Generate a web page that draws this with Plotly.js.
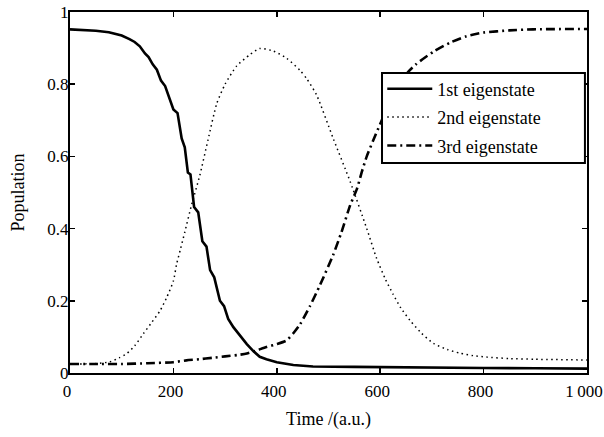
<!DOCTYPE html>
<html>
<head>
<meta charset="utf-8">
<script src="https://cdn.plot.ly/plotly-3.0.1.min.js"></script>
<style>html,body{margin:0;padding:0;background:#fff;}#chart{width:604px;height:437px;}</style>
</head>
<body>
<div id="chart"></div>
<script>
// 1st eigenstate (solid)
const t1 = [0,25,50,75,100,115,125,135,145,152,160,168,176,184,192,200,208,216,222,228,233,240,248,256,264,271,279,290,298,306,316,325,342,355,367,380,400,432,470,550,600,700,800,900,1000];
const p1 = [0.952,0.951,0.948,0.944,0.935,0.925,0.917,0.905,0.885,0.875,0.855,0.84,0.81,0.795,0.76,0.73,0.72,0.65,0.625,0.555,0.55,0.46,0.445,0.365,0.35,0.285,0.265,0.2,0.185,0.15,0.127,0.11,0.08,0.06,0.045,0.038,0.03,0.022,0.018,0.017,0.016,0.015,0.014,0.013,0.012];
// 2nd eigenstate (dotted)
const t2 = [0,50,77,95,110,125,142,158,174,187,200,206,214,222,235,251,267,284,300,322,348,367,393,419,445,458,477,509,542,574,593,610,625,640,658,680,703,730,754,780,806,850,900,1000];
const p2 = [0.025,0.026,0.031,0.042,0.054,0.075,0.109,0.14,0.172,0.209,0.255,0.3,0.345,0.39,0.465,0.547,0.646,0.747,0.8,0.85,0.882,0.899,0.892,0.872,0.838,0.815,0.77,0.65,0.53,0.40,0.318,0.26,0.218,0.18,0.145,0.11,0.082,0.065,0.055,0.048,0.044,0.04,0.038,0.036];
// 3rd eigenstate (dash-dot)
const t3 = [0,50,100,150,200,225,250,275,300,325,342,360,380,400,419,432,445,464,484,509,525,542,555,564,574,587,600,625,651,670,703,735,767,800,850,896,1000];
const p3 = [0.025,0.025,0.025,0.027,0.03,0.035,0.038,0.042,0.046,0.05,0.054,0.062,0.072,0.08,0.09,0.11,0.135,0.185,0.245,0.327,0.39,0.465,0.51,0.555,0.6,0.646,0.69,0.77,0.829,0.856,0.89,0.915,0.933,0.943,0.949,0.952,0.953];
const names = ["1st eigenstate","2nd eigenstate","3rd eigenstate"];
const xTickVals = [0,200,400,600,800,1000];
const xTickText = ["0","200","400","600","800","1\u2009000"];
const yTickVals = [0,0.2,0.4,0.6,0.8,1];
const yTickText = ["0","0.2","0.4","0.6","0.8","1"];

const FONT = "Liberation Serif";
const traces = [
  {x:t1, y:p1, name:names[0], mode:"lines", legendgroup:"a", line:{color:"#000", width:2.6}},
  {x:t2, y:p2, name:names[1], mode:"lines", legendgroup:"b", line:{color:"#000", width:1.5, dash:"1.5px,3.5px", shape:"spline", smoothing:0.6}},
  {x:t3, y:p3, name:names[2], mode:"lines", legendgroup:"c", line:{color:"#000", width:2.6, dash:"9px,4px,2px,4px", shape:"spline", smoothing:0.6}}
];
const axisCommon = {
  showgrid:false, zeroline:false, showline:true, linecolor:"#000", linewidth:2, mirror:"ticks",
  ticks:"inside", ticklen:5, tickwidth:1.5, tickcolor:"#000", ticklabeloverflow:"allow",
  tickfont:{family:FONT, size:17, color:"#000"}
};
const layout = {
  width:604, height:437,
  margin:{l:70, r:17, t:12, b:64},
  paper_bgcolor:"#fff", plot_bgcolor:"#fff",
  font:{family:FONT, size:18, color:"#000"},
  xaxis:Object.assign({}, axisCommon, {range:[0,1000], tickvals:xTickVals, ticktext:xTickText, ticklabelstandoff:2, ticklabelshift:-3,
    title:{text:"Time /(a.u.)", font:{family:FONT, size:18}, standoff:12}}),
  yaxis:Object.assign({}, axisCommon, {range:[0,1], tickvals:yTickVals, ticktext:yTickText, ticklabelstandoff:-4,
    title:{text:"Population", font:{family:FONT, size:18}, standoff:18}}),
  shapes:[{type:"rect", xref:"paper", yref:"paper", x0:0.6035, x1:0.996, y0:0.5817, y1:0.831,
    fillcolor:"#fff", line:{color:"#000", width:2}, layer:"above"}],
  showlegend:true,
  legend:{x:0.604, y:0.838, xanchor:"left", yanchor:"top", bgcolor:"rgba(0,0,0,0)", borderwidth:0,
    font:{family:FONT, size:18, color:"#000"}, tracegroupgap:2, traceorder:"grouped", itemwidth:45}
};
Plotly.newPlot("chart", traces, layout, {staticPlot:true, displayModeBar:false});
</script>
</body>
</html>
